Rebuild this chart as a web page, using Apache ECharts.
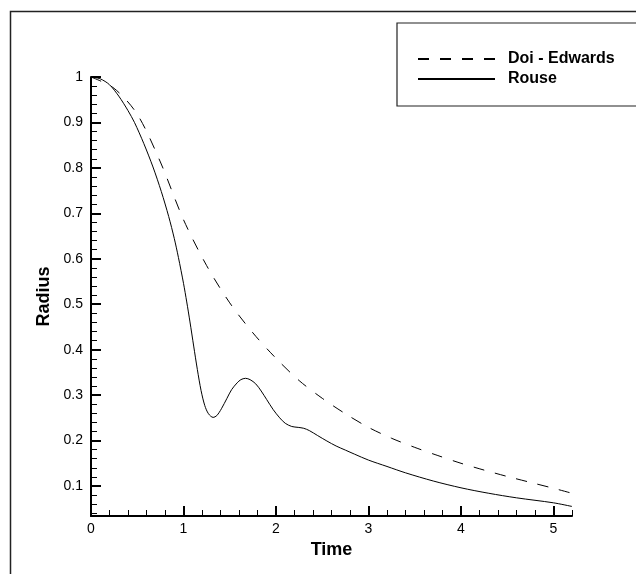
<!DOCTYPE html>
<html>
<head>
<meta charset="utf-8">
<script src="https://cdn.jsdelivr.net/npm/echarts@6/dist/echarts.min.js"></script>
<style>html,body{margin:0;padding:0;background:#fff;}#c{width:636px;height:574px;}</style>
</head>
<body>
<div id="c"></div>
<script>
// Data
const doiTime   = [0, 0.25, 0.5, 0.75, 1.0, 1.25, 1.5, 1.75, 2.0, 2.25, 2.5, 2.75, 3.0, 3.25, 3.5, 3.75, 4.0, 4.25, 4.5, 4.75, 5.0, 5.2];
const doiRadius = [1.0, 0.975, 0.918, 0.813, 0.686, 0.585, 0.503, 0.437, 0.381, 0.332, 0.293, 0.259, 0.229, 0.205, 0.185, 0.167, 0.150, 0.135, 0.121, 0.108, 0.095, 0.084];

const rouseTime   = [0, 0.1, 0.2, 0.3, 0.4, 0.47, 0.57, 0.67, 0.76, 0.84, 0.9, 0.945, 1.0, 1.035, 1.07, 1.11, 1.15, 1.19, 1.23, 1.27, 1.32, 1.36, 1.41, 1.47, 1.52, 1.58, 1.62, 1.67, 1.72, 1.78, 1.84, 1.9, 1.97, 2.04, 2.1, 2.17, 2.24, 2.3, 2.36, 2.45, 2.55, 2.65, 2.75, 2.85, 3.0, 3.2, 3.4, 3.7, 4.0, 4.3, 4.6, 5.0, 5.2];
const rouseRadius = [1.0, 0.996, 0.983, 0.958, 0.926, 0.9, 0.854, 0.802, 0.748, 0.693, 0.645, 0.603, 0.546, 0.505, 0.461, 0.408, 0.356, 0.31, 0.277, 0.259, 0.251, 0.255, 0.27, 0.293, 0.312, 0.327, 0.334, 0.337, 0.334, 0.325, 0.309, 0.29, 0.268, 0.25, 0.238, 0.231, 0.229, 0.227, 0.222, 0.211, 0.199, 0.188, 0.179, 0.17, 0.157, 0.143, 0.129, 0.111, 0.096, 0.084, 0.074, 0.063, 0.055];

const xTicks = [0, 1, 2, 3, 4, 5];
const yTicks = [0.1, 0.2, 0.3, 0.4, 0.5, 0.6, 0.7, 0.8, 0.9, 1];
const seriesNames = ['Doi - Edwards', 'Rouse'];

const X_MIN = 0, X_MAX = 5.2, Y_MIN = 0.034, Y_MAX = 1;

const xMinor = [];
for (let i = 1; i <= 26; i++) { if (i % 5 !== 0) xMinor.push(+(i * 0.2).toFixed(2)); }
const yMinor = [];
for (let i = 2; i <= 49; i++) { if (i % 5 !== 0) yMinor.push(+(i * 0.02).toFixed(2)); }

const FONT = '"Liberation Sans", Arial, Helvetica, sans-serif';

const chart = echarts.init(document.getElementById('c'), null, {renderer: 'canvas'});

function pairs(xs, ys) { return xs.map((x, i) => [x, ys[i]]); }

const baseX = {type: 'value', min: X_MIN, max: X_MAX, position: 'bottom', splitLine: {show: false}};
const baseY = {type: 'value', min: Y_MIN, max: Y_MAX, position: 'left', splitLine: {show: false}};

chart.setOption({
  animation: false,
  backgroundColor: '#fff',
  grid: {left: 91, right: 64, top: 77, bottom: 58, containLabel: false},
  graphic: [{
    type: 'rect', left: 8, top: 9, z: 0,
    shape: {width: 700, height: 700},
    style: {fill: 'none', stroke: '#222', lineWidth: 1.5}
  }],
  legend: {
    orient: 'vertical',
    left: 397, top: 23,
    padding: [28, 60, 19, 20],
    itemWidth: 77, itemHeight: 14, itemGap: 4,
    backgroundColor: '#fff',
    borderColor: '#222', borderWidth: 1.2,
    borderRadius: 0,
    itemStyle: {opacity: 0},
    data: seriesNames,
    textStyle: {fontFamily: FONT, fontWeight: 'bold', fontSize: 16, color: '#000', padding: [0, 0, 0, 8]}
  },
  xAxis: [
    Object.assign({}, baseX, {
      name: 'Time', nameLocation: 'middle', nameGap: 23,
      nameTextStyle: {fontFamily: FONT, fontWeight: 'bold', fontSize: 18, color: '#000'},
      axisLine: {show: true, onZero: false, lineStyle: {color: '#000', width: 2}},
      axisTick: {show: true, inside: true, length: 10, customValues: xTicks, lineStyle: {color: '#000', width: 2}},
      axisLabel: {show: true, margin: 6, customValues: xTicks, fontFamily: FONT, fontSize: 14, color: '#000'}
    }),
    Object.assign({}, baseX, {
      axisLine: {show: false},
      axisTick: {show: true, inside: true, length: 6, customValues: xMinor, lineStyle: {color: '#000', width: 1}},
      axisLabel: {show: false}
    })
  ],
  yAxis: [
    Object.assign({}, baseY, {
      name: 'Radius', nameLocation: 'middle', nameGap: 31, nameRotate: 90,
      nameTextStyle: {fontFamily: FONT, fontWeight: 'bold', fontSize: 18, color: '#000'},
      axisLine: {show: true, onZero: false, lineStyle: {color: '#000', width: 2}},
      axisTick: {show: true, inside: true, length: 10, customValues: yTicks, lineStyle: {color: '#000', width: 2}},
      axisLabel: {show: true, margin: 8, customValues: yTicks, fontFamily: FONT, fontSize: 14, color: '#000'}
    }),
    Object.assign({}, baseY, {
      axisLine: {show: false},
      axisTick: {show: true, inside: true, length: 6, customValues: yMinor, lineStyle: {color: '#000', width: 1}},
      axisLabel: {show: false}
    })
  ],
  series: [
    {
      name: seriesNames[0], type: 'line', xAxisIndex: 0, yAxisIndex: 0,
      data: pairs(doiTime, doiRadius), smooth: 0.3, showSymbol: false, symbol: 'none',
      lineStyle: {color: '#000', width: 1, type: [11, 11]}, itemStyle: {color: '#000'}
    },
    {
      name: seriesNames[1], type: 'line', xAxisIndex: 0, yAxisIndex: 0,
      data: pairs(rouseTime, rouseRadius), smooth: 0.3, showSymbol: false, symbol: 'none',
      lineStyle: {color: '#000', width: 1, type: 'solid'}, itemStyle: {color: '#000'}
    }
  ]
});
</script>
</body>
</html>
